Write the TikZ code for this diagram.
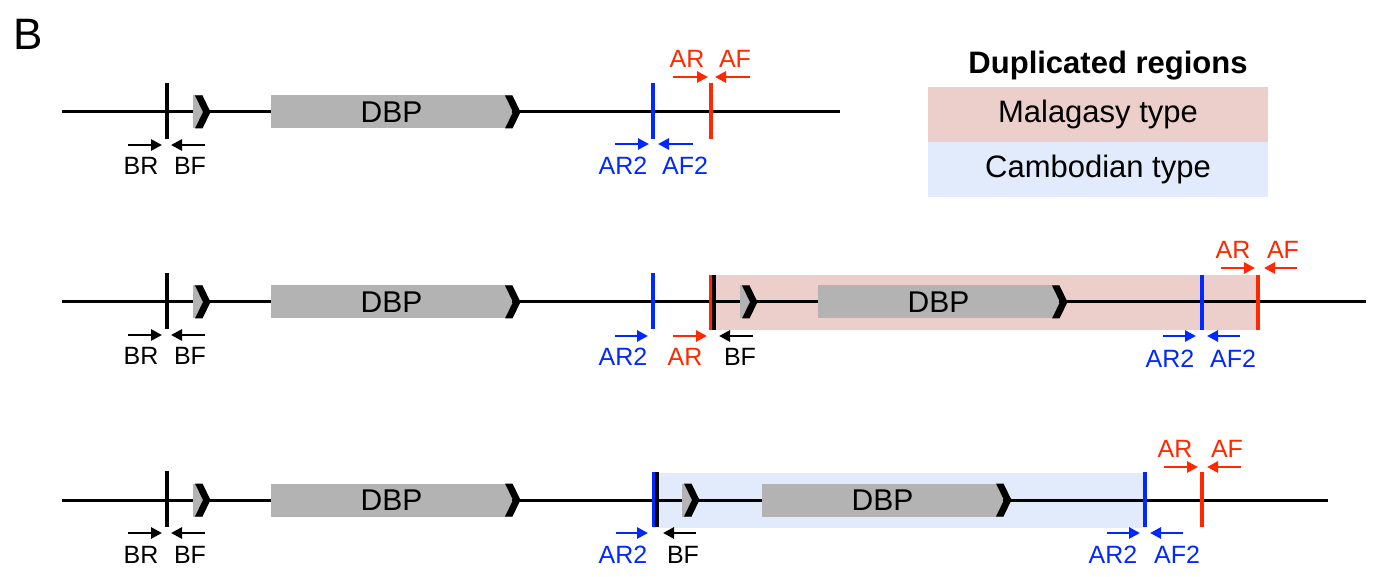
\documentclass[tikz,border=0pt]{standalone}
\usepackage{fontspec}
\setmainfont{Liberation Sans}
\usetikzlibrary{arrows.meta}
\definecolor{pred}{RGB}{255,40,0}
\definecolor{pblue}{RGB}{0,40,255}
\definecolor{genegray}{RGB}{179,179,179}
\definecolor{malagasy}{RGB}{236,207,202}
\definecolor{cambodian}{RGB}{225,235,251}
\begin{document}
\begin{tikzpicture}[x=1pt,y=-1pt,
		backbone/.style={line width=3pt},
		tick/.style={line width=3.2pt},
		primer/.style={line width=2.8pt,-{Triangle[length=11pt,width=11pt]}},
		lab/.style={font=\fontsize{25}{28}\selectfont,inner sep=0pt,anchor=base},
		gene/.style={fill=genegray,minimum height=33pt,minimum width=241pt,inner sep=0pt,font=\fontsize{30}{32}\selectfont},
		marker/.style={fill=genegray,minimum height=33pt,minimum width=10pt,inner sep=0pt},
		chev/.pic={\fill[black] (0,-16.5) -- (7.5,-16.5) -- (15.5,0) -- (7.5,16.5) -- (0,16.5) -- (8,0) -- cycle;}]
		\useasboundingbox (0,0) rectangle (1374,577);
		\node[font=\fontsize{44}{48}\selectfont,inner sep=0pt,anchor=base west] (P) at (13,50) {B};
		
		\node[font=\bfseries\fontsize{31}{34}\selectfont,inner sep=0pt,anchor=base] (K) at (1108,74) {Duplicated regions};
		\node[fill=malagasy,minimum width=340pt,minimum height=55pt,font=\fontsize{31}{34}\selectfont] (KM) at (1098,114.5) {Malagasy type};
		\node[fill=cambodian,minimum width=340pt,minimum height=55pt,font=\fontsize{31}{34}\selectfont] (KC) at (1098,169.5) {Cambodian type};
		
		\coordinate (L) at (62,112);
		\coordinate (L') at (840,112);
		\draw[backbone] (L) -- (L');
		\coordinate (T) at (167,83);
		\coordinate (T') at (167,139);
		\draw[tick] (T) -- (T');
		\node[marker] (M) at (198,112) {};
		\pic at (195,112) {chev};
		\node[gene] (G) at (391.5,112) {DBP};
		\pic at (505,112) {chev};
		\coordinate (U) at (653,83);
		\coordinate (U') at (653,139);
		\draw[tick,pblue] (U) -- (U');
		\coordinate (V) at (711,83);
		\coordinate (V') at (711,139);
		\draw[tick,pred] (V) -- (V');
		\coordinate (a1) at (128,145); \coordinate (a1') at (162,145);
		\coordinate (a2) at (205,145); \coordinate (a2') at (171,145);
		\draw[primer] (a1) -- (a1');
		\draw[primer] (a2) -- (a2');
		\node[lab] (BR) at (141,175) {BR};
		\node[lab] (BF) at (190,175) {BF};
		\coordinate (a3) at (615,144); \coordinate (a3') at (649,144);
		\coordinate (a4) at (693,144); \coordinate (a4') at (658,144);
		\draw[primer,pblue] (a3) -- (a3');
		\draw[primer,pblue] (a4) -- (a4');
		\node[lab,pblue] (AR2) at (623,175) {AR2};
		\node[lab,pblue] (AF2) at (685,175) {AF2};
		\coordinate (a5) at (673,77); \coordinate (a5') at (708,77);
		\coordinate (a6) at (750,77); \coordinate (a6') at (715,77);
		\draw[primer,pred] (a5) -- (a5');
		\draw[primer,pred] (a6) -- (a6');
		\node[lab,pred] (AR) at (687,68) {AR};
		\node[lab,pred] (AF) at (735,68) {AF};
		
		\node[fill=malagasy,minimum width=546pt,minimum height=55pt,inner sep=0pt] (R') at (985,302.5) {};
		\coordinate (L'') at (62,302);
		\coordinate (L''') at (1366,302);
		\draw[backbone] (L'') -- (L''');
		\coordinate (T'') at (167,273);
		\coordinate (T''') at (167,329);
		\draw[tick] (T'') -- (T''');
		\node[marker] (M'') at (198,302) {};
		\pic at (195,302) {chev};
		\node[gene] (G'') at (391.5,302) {DBP};
		\pic at (505,302) {chev};
		\coordinate (U'') at (653,273);
		\coordinate (U''') at (653,329);
		\draw[tick,pblue] (U'') -- (U''');
		\coordinate (V'') at (711,275);
		\coordinate (V''') at (711,330);
		\draw[tick,pred] (V'') -- (V''');
		\coordinate (W'') at (714,275);
		\coordinate (W''') at (714,330);
		\draw[tick] (W'') -- (W''');
		\node[marker] (M''') at (745,302) {};
		\pic at (742,302) {chev};
		\node[gene] (G''') at (938.5,302) {DBP};
		\pic at (1052,302) {chev};
		\coordinate (X'') at (1202,275);
		\coordinate (X''') at (1202,330);
		\draw[tick,pblue] (X'') -- (X''');
		\coordinate (Y'') at (1258,275);
		\coordinate (Y''') at (1258,330);
		\draw[tick,pred] (Y'') -- (Y''');
		\coordinate (b1) at (128,335); \coordinate (b1') at (162,335);
		\coordinate (b2) at (205,335); \coordinate (b2') at (171,335);
		\draw[primer] (b1) -- (b1');
		\draw[primer] (b2) -- (b2');
		\node[lab] (BR'') at (141,365) {BR};
		\node[lab] (BF'') at (190,365) {BF};
		\coordinate (b3) at (615,336); \coordinate (b3') at (648,336);
		\coordinate (b4) at (673,336); \coordinate (b4') at (707,336);
		\coordinate (b5) at (753,336); \coordinate (b5') at (719,336);
		\draw[primer,pblue] (b3) -- (b3');
		\draw[primer,pred] (b4) -- (b4');
		\draw[primer] (b5) -- (b5');
		\node[lab,pblue] (AR2'') at (623,366) {AR2};
		\node[lab,pred] (AR'') at (685,366) {AR};
		\node[lab] (BF''') at (740,366) {BF};
		\coordinate (b6) at (1163,336); \coordinate (b6') at (1196,336);
		\coordinate (b7) at (1240,336); \coordinate (b7') at (1207,336);
		\draw[primer,pblue] (b6) -- (b6');
		\draw[primer,pblue] (b7) -- (b7');
		\node[lab,pblue] (AR2''') at (1170,367) {AR2};
		\node[lab,pblue] (AF2''') at (1233,367) {AF2};
		\coordinate (b8) at (1221,268); \coordinate (b8') at (1255,268);
		\coordinate (b9) at (1297,268); \coordinate (b9') at (1264,268);
		\draw[primer,pred] (b8) -- (b8');
		\draw[primer,pred] (b9) -- (b9');
		\node[lab,pred] (AR''') at (1233,259) {AR};
		\node[lab,pred] (AF''') at (1283,259) {AF};
		
		\node[fill=cambodian,minimum width=492pt,minimum height=55pt,inner sep=0pt] (R'''') at (899,500) {};
		\coordinate (L'''') at (62,500);
		\coordinate (L''''') at (1328,500);
		\draw[backbone] (L'''') -- (L''''');
		\coordinate (T'''') at (167,471);
		\coordinate (T''''') at (167,527);
		\draw[tick] (T'''') -- (T''''');
		\node[marker] (M'''') at (198,500) {};
		\pic at (195,500) {chev};
		\node[gene] (G'''') at (391.5,500) {DBP};
		\pic at (505,500) {chev};
		\coordinate (U'''') at (654,472);
		\coordinate (U''''') at (654,527);
		\draw[tick,pblue] (U'''') -- (U''''');
		\coordinate (W'''') at (657,472);
		\coordinate (W''''') at (657,527);
		\draw[tick] (W'''') -- (W''''');
		\node[marker] (M''''') at (687,500) {};
		\pic at (684,500) {chev};
		\node[gene] (G''''') at (882.5,500) {DBP};
		\pic at (996,500) {chev};
		\coordinate (X'''') at (1145,472);
		\coordinate (X''''') at (1145,527);
		\draw[tick,pblue] (X'''') -- (X''''');
		\coordinate (Y'''') at (1202,472);
		\coordinate (Y''''') at (1202,527);
		\draw[tick,pred] (Y'''') -- (Y''''');
		\coordinate (c1) at (128,533); \coordinate (c1') at (162,533);
		\coordinate (c2) at (205,533); \coordinate (c2') at (171,533);
		\draw[primer] (c1) -- (c1');
		\draw[primer] (c2) -- (c2');
		\node[lab] (BR'''') at (141,563) {BR};
		\node[lab] (BF'''') at (190,563) {BF};
		\coordinate (c3) at (616,533); \coordinate (c3') at (648,533);
		\coordinate (c4) at (696,533); \coordinate (c4') at (663,533);
		\draw[primer,pblue] (c3) -- (c3');
		\draw[primer] (c4) -- (c4');
		\node[lab,pblue] (AR2'''') at (623,563) {AR2};
		\node[lab] (BF''''') at (683,563) {BF};
		\coordinate (c5) at (1107,533); \coordinate (c5') at (1140,533);
		\coordinate (c6) at (1183,533); \coordinate (c6') at (1150,533);
		\draw[primer,pblue] (c5) -- (c5');
		\draw[primer,pblue] (c6) -- (c6');
		\node[lab,pblue] (AR2''''') at (1113,563) {AR2};
		\node[lab,pblue] (AF2''''') at (1177,563) {AF2};
		\coordinate (c7) at (1164,467); \coordinate (c7') at (1198,467);
		\coordinate (c8) at (1241,467); \coordinate (c8') at (1207,467);
		\draw[primer,pred] (c7) -- (c7');
		\draw[primer,pred] (c8) -- (c8');
		\node[lab,pred] (AR''''') at (1175,457) {AR};
		\node[lab,pred] (AF''''') at (1227,457) {AF};
\end{tikzpicture}
\end{document}
